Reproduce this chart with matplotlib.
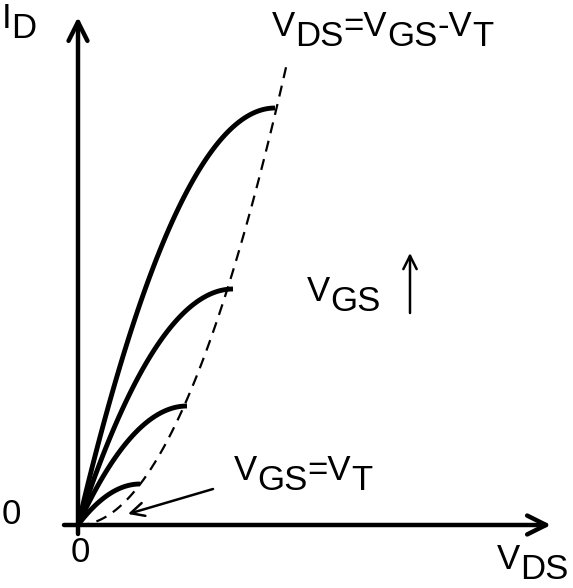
import matplotlib
matplotlib.use("Agg")
import matplotlib.pyplot as plt
import numpy as np

plt.rcParams['font.family'] = ['Liberation Sans', 'DejaVu Sans']

# end points of the triode curves (V_DS,sat ; I_D,sat)
vds_sat = [0.62, 1.09, 1.55, 1.97]
id_sat = [0.41, 1.19, 2.36, 4.17]

# end of the dashed boundary V_DS = V_GS - V_T
edge_x = 2.09
edge_y = 4.62

fig = plt.figure(figsize=(5.73, 5.88), dpi=100)
ax = fig.add_axes([0, 0, 1, 1])
ax.set_xlim(-0.78, 4.95)
ax.set_ylim(-0.63, 5.25)
ax.axis('off')

# axes with open arrow heads
ax.annotate('', xy=(4.73, 0), xytext=(-0.14, 0),
            arrowprops=dict(arrowstyle='->', lw=3.2, color='black', mutation_scale=34,
                            shrinkA=0, shrinkB=0))
ax.annotate('', xy=(0, 5.08), xytext=(0, -0.09),
            arrowprops=dict(arrowstyle='->', lw=3.2, color='black', mutation_scale=34,
                            shrinkA=0, shrinkB=0))

# triode curves: parabola from origin up to the saturation point
for vs, isat in zip(vds_sat, id_sat):
    v = np.linspace(0, vs, 100)
    i = isat * (1 - (1 - v / vs) ** 2)
    ax.plot(v, i, color='black', lw=3.5, solid_capstyle='butt')

# dashed boundary
xe = np.linspace(0, edge_x, 100)
ax.plot(xe, edge_y * (xe / edge_x) ** 2, color='black', lw=1.6, dashes=(5, 3.5))


def label(x, y, parts, size=25):
    # parts: list of (text, level) ; level 0 = normal, -1 = lowered
    drop = 7.5
    prev = None
    prev_lvl = 0
    for s, lvl in parts:
        if prev is None:
            prev = ax.annotate(s, xy=(x, y), xytext=(0, lvl * drop), textcoords='offset points',
                               ha='left', va='bottom', fontsize=size)
        else:
            prev = ax.annotate(s, xy=(1, 0), xycoords=prev, xytext=(0, (lvl - prev_lvl) * drop),
                               textcoords='offset points', ha='left', va='bottom', fontsize=size)
        prev_lvl = lvl


label(-0.76, 4.90, [('I', 0), ('D', -1)])
label(1.94, 4.82, [('V', 0), ('DS', -1), ('=V', 0), ('GS', -1), ('-V', 0), ('T', -1)])
label(2.29, 2.17, [('V', 0), ('GS', -1)])
label(1.56, 0.38, [('V', 0), ('GS', -1), ('=V', 0), ('T', -1)])
label(4.19, -0.51, [('V', 0), ('DS', -1)])

ax.text(-0.67, 0.10, '0', ha='center', va='center', fontsize=25)
ax.text(0.02, -0.28, '0', ha='center', va='center', fontsize=25)

# V_GS increasing arrow
ax.annotate('', xy=(3.32, 2.72), xytext=(3.32, 2.12),
            arrowprops=dict(arrowstyle='->', lw=1.8, color='black', mutation_scale=24,
                            shrinkA=0, shrinkB=0))

# pointer to V_GS = V_T
ax.annotate('', xy=(0.50, 0.11), xytext=(1.35, 0.36),
            arrowprops=dict(arrowstyle='->', lw=1.8, color='black', mutation_scale=24,
                            shrinkA=0, shrinkB=0))

fig.savefig('out.png', dpi=100)
